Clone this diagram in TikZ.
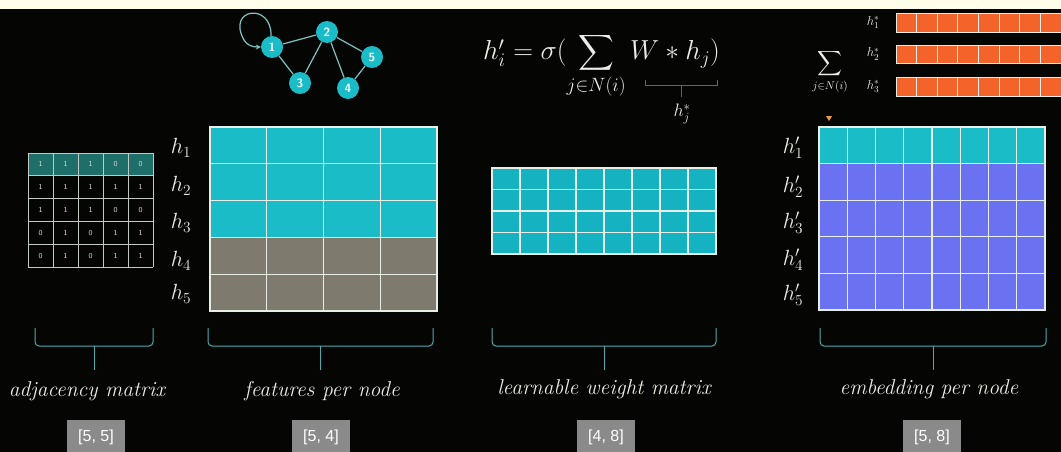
\RequirePackage{fix-cm}
\documentclass[tikz,border=0pt]{standalone}
\usepackage{amsmath}
\usepackage{fontspec}
\newfontfamily\boxfont{Liberation Sans}
\usetikzlibrary{arrows.meta}
\definecolor{bgc}{HTML}{050503}
\definecolor{cyanA}{HTML}{1ABCC8}
\definecolor{cyanB}{HTML}{15B2C2}
\definecolor{grayF}{HTML}{7E7A6E}
\definecolor{peri}{HTML}{6A72F2}
\definecolor{tealD}{HTML}{1E6E6A}
\definecolor{gridc}{HTML}{E6EEE6}
\definecolor{orangeA}{HTML}{F4632A}
\definecolor{bracec}{HTML}{4FAAB0}
\definecolor{txt}{HTML}{EDEDE8}
\definecolor{boxg}{HTML}{8A8A8A}
\definecolor{edgec}{HTML}{7FC4C4}
\definecolor{brownb}{HTML}{7A6040}
\definecolor{markc}{HTML}{E8A030}
\tikzset{
  gl/.style={draw=gridc, line width=1.2pt},
  gnode/.style={circle, fill=cyanA, minimum size=22pt, inner sep=0pt, text=white, font=\sffamily\bfseries\fontsize{12}{12}\selectfont},
  gedge/.style={draw=edgec, line width=1.2pt},
  rowlab/.style={text=txt, font=\fontsize{22}{24}\selectfont},
  caplab/.style={text=txt, font=\itshape\fontsize{21.5}{24}\selectfont},
  dimbox/.style={fill=boxg, minimum width=58pt, minimum height=34pt, inner sep=0pt, text=white, font=\boxfont\fontsize{16}{18}\selectfont},
  bracel/.style={draw=bracec, line width=1pt, rounded corners=4pt},
  adjd/.style={text=txt!80!gray, font=\sffamily\fontsize{7.5}{7.5}\selectfont},
}
\begin{document}
\begin{tikzpicture}[x=1pt,y=-1pt]
\useasboundingbox (0,0) rectangle (1061,452);
\fill[bgc] (0,0) rectangle (1061,452);
\fill[white!92!yellow] (0,0) rectangle (1061,9);

% ---------- adjacency matrix ----------
\fill[tealD] (28,153) rectangle (153,175.8);
\foreach \i in {0,...,5} {
  \draw[draw=gridc!85!black, line width=1pt] ({28+\i*25},153) -- ({28+\i*25},267);
  \draw[draw=gridc!85!black, line width=1pt] (28,{153+\i*22.8}) -- (153,{153+\i*22.8});
}
\foreach \r/\row in {1/{1,1,1,0,0},2/{1,1,1,1,1},3/{1,1,1,0,0},4/{0,1,0,1,1},5/{0,1,0,1,1}} {
  \foreach \v [count=\c] in \row {
    \node[adjd] (a\r\c) at ({28+(\c-0.5)*25},{153+(\r-0.5)*22.8}) {\v};
  }
}

% ---------- graph ----------
\node[gnode] (n1) at (272,47) {1};
\node[gnode] (n2) at (327,32) {2};
\node[gnode] (n3) at (300,83) {3};
\node[gnode] (n4) at (348,88) {4};
\node[gnode] (n5) at (372,57) {5};
\draw[gedge] (n1) -- (n2);
\draw[gedge] (n1) -- (n3);
\draw[gedge] (n2) -- (n3);
\draw[gedge] (n2) -- (n4);
\draw[gedge] (n2) -- (n5);
\draw[gedge] (n4) -- (n5);
\draw[gedge, -{Stealth[length=5pt,width=5pt]}] (n1.95) .. controls (272,2) and (226,8) .. (244,40) .. controls (247,45) and (252,47) .. (n1.west);

% ---------- features per node ----------
\fill[cyanA] (210,127) rectangle (437,237.4);
\fill[grayF] (210,237.4) rectangle (437,311);
\foreach \i in {1,...,3} \draw[gl] ({210+\i*56.75},127) -- ({210+\i*56.75},311);
\foreach \i in {1,...,4} \draw[gl] (210,{127+\i*36.8}) -- (437,{127+\i*36.8});
\draw[gl] (210,127) rectangle (437,311);
\foreach \k/\yy in {1/148,2/186,3/223,4/261,5/294}
  \node[rowlab] (h\k) at (181,\yy) {$h_{\k}$};

% ---------- formula ----------
\node[anchor=base west, inner sep=0pt, text=txt, font=\fontsize{27.5}{30}\selectfont] (form) at (483,60)
  {$h'_i = \sigma(\displaystyle\sum_{j\in N(i)} W * h_j)$};
\draw[draw=brownb, line width=1pt] (645,80) -- (645,86) -- (717,86) -- (717,80);
\draw[draw=brownb, line width=1pt] (681,86) -- (681,97);
\node[text=txt, font=\fontsize{18}{20}\selectfont] (hjs) at (682,114) {$h_j^{*}$};

% ---------- weight matrix ----------
\fill[cyanB] (492,168) rectangle (716,254);
\foreach \i in {1,...,7} \draw[gl] ({492+\i*28},168) -- ({492+\i*28},254);
\foreach \i in {1,...,3} \draw[gl] (492,{168+\i*21.5}) -- (716,{168+\i*21.5});
\draw[gl] (492,168) rectangle (716,254);

% ---------- aggregation (top right) ----------
\node[text=txt, font=\fontsize{16}{18}\selectfont] (sm) at (830,72) {$\displaystyle\sum_{j\in N(i)}$};
\foreach \k/\ya/\yb in {1/13/32,2/45/63,3/77/96} {
  \fill[orangeA] (896,\ya) rectangle (1061,\yb);
  \foreach \i in {1,...,7} \draw[draw=gridc, line width=0.8pt] ({896+\i*20.6},\ya) -- ({896+\i*20.6},\yb);
  \draw[draw=gridc, line width=0.8pt] (1061,\ya) -- (896,\ya) -- (896,\yb) -- (1061,\yb);
  \node[text=txt, font=\fontsize{13}{13}\selectfont] (hs\k) at (873,{(\ya+\yb)/2}) {$h_{\k}^{*}$};
}
\fill[markc] (826,116) -- (832,116) -- (829,121) -- cycle;

% ---------- embedding per node ----------
\fill[cyanA] (819,127) rectangle (1045,163.6);
\fill[peri] (819,163.6) rectangle (1045,310);
\foreach \i in {1,...,7} \draw[gl] ({819+\i*28.25},127) -- ({819+\i*28.25},310);
\foreach \i in {1,...,4} \draw[gl] (819,{127+\i*36.6}) -- (1045,{127+\i*36.6});
\draw[gl] (819,127) rectangle (1045,310);
\foreach \k/\yy in {1/148,2/187,3/223,4/260,5/295}
  \node[rowlab] (hp\k) at (793,\yy) {$h'_{\k}$};

% ---------- braces ----------
\foreach \xa/\xb/\nm in {35/153/b1, 208/433/b2, 492/716/b3, 820/1046/b4} {
  \draw[bracel] (\xa,328) -- (\xa,346) -- (\xb,346) -- (\xb,328);
  \coordinate (\nm top) at ({(\xa+\xb)/2},346);
  \coordinate (\nm bot) at ({(\xa+\xb)/2},370);
  \draw[draw=bracec, line width=1pt] (\nm top) -- (\nm bot);
}

% ---------- captions ----------
\node[caplab] (c1) at (87,391) {adjacency matrix};
\node[caplab] (c2) at (322,391) {features per node};
\node[caplab] (c3) at (604,389) {learnable weight matrix};
\node[caplab] (c4) at (929,389) {embedding per node};

% ---------- dimension boxes ----------
\node[dimbox] (d1) at (96,437) {[5, 5]};
\node[dimbox] (d2) at (321,437) {[5, 4]};
\node[dimbox] (d3) at (606,437) {[4, 8]};
\node[dimbox] (d4) at (932,437) {[5, 8]};
\end{tikzpicture}
\end{document}
